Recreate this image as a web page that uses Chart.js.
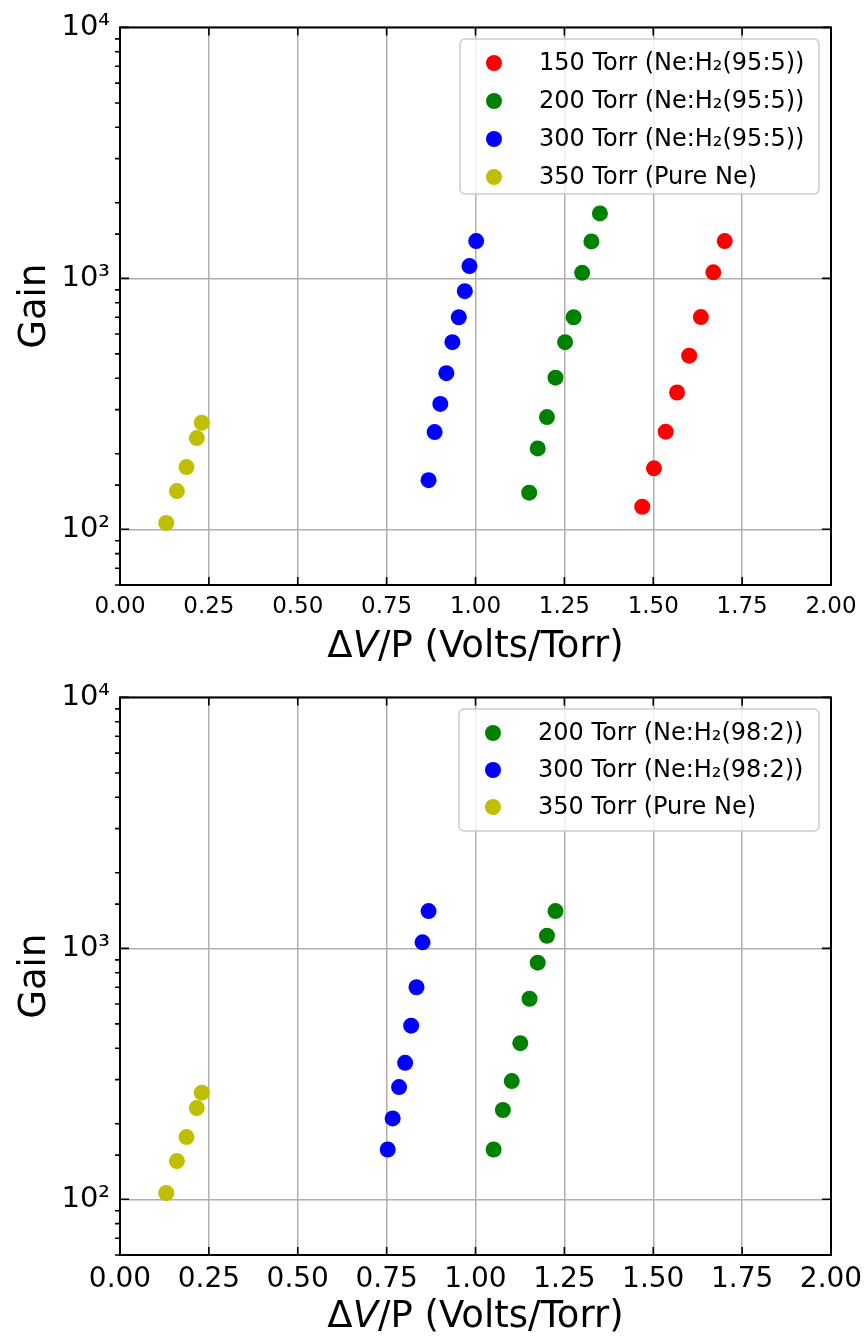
<!DOCTYPE html>
<html>
<head>
<meta charset="utf-8">
<script src="https://cdn.jsdelivr.net/npm/chart.js@4.4.1/dist/chart.umd.min.js"></script>
<style>
  body { margin: 0; background: #fff; }
  canvas { display: block; }
</style>
</head>
<body>
<canvas id="chartTop" width="864" height="670"></canvas>
<canvas id="chartBottom" width="864" height="670"></canvas>
<script>
// --- data (x = dV/P in Volts/Torr, y = gain) ---
// top panel, Ne:H2 (95:5)
const x150 = [1.469, 1.502, 1.535, 1.567, 1.601, 1.634, 1.669, 1.701];
const g150 = [123, 175, 245, 351, 492, 701, 1057, 1408];
const x200a = [1.151, 1.175, 1.201, 1.225, 1.252, 1.276, 1.300, 1.326, 1.350];
const g200a = [140, 210, 280, 402, 557, 700, 1052, 1404, 1815];
const x300a = [0.868, 0.885, 0.901, 0.918, 0.935, 0.953, 0.970, 0.983, 1.002];
const g300a = [157, 244, 316, 419, 557, 700, 889, 1119, 1408];
// pure neon, same in both panels
const x350 = [0.130, 0.160, 0.187, 0.216, 0.230];
const g350 = [106, 142, 177, 231, 266];
// bottom panel, Ne:H2 (98:2)
const x200b = [1.051, 1.077, 1.102, 1.126, 1.152, 1.175, 1.201, 1.225];
const g200b = [158, 227, 296, 419, 630, 877, 1123, 1408];
const x300b = [0.753, 0.767, 0.785, 0.802, 0.819, 0.834, 0.851, 0.868];
const g300b = [158, 210, 280, 350, 492, 700, 1057, 1408];

const labelsTop = ['150 Torr (Ne:H\u2082(95:5))', '200 Torr (Ne:H\u2082(95:5))',
                   '300 Torr (Ne:H\u2082(95:5))', '350 Torr (Pure Ne)'];
const labelsBottom = ['200 Torr (Ne:H\u2082(98:2))', '300 Torr (Ne:H\u2082(98:2))',
                      '350 Torr (Pure Ne)'];
const xTitle = ['\u0394', 'V', '/P (Volts/Torr)'];   // middle part is italic
const yTitle = 'Gain';

const RED = '#ff0000', GREEN = '#008000', BLUE = '#0000ff', YELLOW = '#bfbf00';
const FONT = "'DejaVu Sans', sans-serif";
const sup = ['\u2070', '\u00b9', '\u00b2', '\u00b3', '\u2074'];

function pts(xs, ys) {
  return xs.map((v, i) => ({x: v, y: ys[i]}));
}

function isDecade(v) {
  const l = Math.log10(v);
  return Math.abs(l - Math.round(l)) < 1e-6;
}

function makeSet(label, xs, ys, color) {
  return {
    label: label,
    data: pts(xs, ys),
    backgroundColor: color,
    borderWidth: 0,
    pointRadius: 8,
    pointHoverRadius: 8
  };
}

// frame + matplotlib style tick marks (majors inward, minor log ticks outward)
const frameTicks = {
  id: 'frameTicks',
  afterDraw(chart) {
    const {ctx, chartArea: a, scales: {x, y}} = chart;
    ctx.save();
    ctx.strokeStyle = '#000';
    ctx.lineWidth = 1.6;
    ctx.beginPath();
    x.ticks.forEach(t => {
      const px = x.getPixelForValue(t.value);
      ctx.moveTo(px, a.bottom); ctx.lineTo(px, a.bottom - 8);
      ctx.moveTo(px, a.top); ctx.lineTo(px, a.top + 8);
    });
    y.ticks.forEach(t => {
      const py = y.getPixelForValue(t.value);
      if (isDecade(t.value)) {
        ctx.moveTo(a.left, py); ctx.lineTo(a.left + 9, py);
        ctx.moveTo(a.right, py); ctx.lineTo(a.right - 9, py);
      } else {
        ctx.moveTo(a.left, py); ctx.lineTo(a.left - 5, py);
      }
    });
    ctx.stroke();
    ctx.lineWidth = 2;
    ctx.strokeRect(a.left, a.top, a.width, a.height);
    ctx.restore();
  }
};

// axis titles, with italic V in the x title
const axisTitles = {
  id: 'axisTitles',
  afterDraw(chart, args, opts) {
    const {ctx, chartArea: a} = chart;
    ctx.save();
    ctx.fillStyle = '#000';
    ctx.textBaseline = 'alphabetic';
    const fs = opts.size;
    const fonts = [fs + 'px ' + FONT, 'italic ' + fs + 'px ' + FONT, fs + 'px ' + FONT];
    let total = 0;
    const widths = xTitle.map((s, i) => { ctx.font = fonts[i]; const w = ctx.measureText(s).width; total += w; return w; });
    let cx = (a.left + a.right) / 2 - total / 2;
    xTitle.forEach((s, i) => {
      ctx.font = fonts[i];
      ctx.textAlign = 'left';
      ctx.fillText(s, cx, opts.xBase);
      cx += widths[i];
    });
    ctx.translate(opts.yBase, (a.top + a.bottom) / 2);
    ctx.rotate(-Math.PI / 2);
    ctx.font = fonts[0];
    ctx.textAlign = 'center';
    ctx.fillText(yTitle, 0, 0);
    ctx.restore();
  }
};

// legend box in the upper right corner of the plot
const boxLegend = {
  id: 'boxLegend',
  afterDraw(chart, args, opts) {
    const ctx = chart.ctx;
    const sets = chart.data.datasets;
    ctx.save();
    ctx.beginPath();
    ctx.roundRect(opts.x, opts.y, opts.w, opts.h, 5);
    ctx.fillStyle = 'rgba(255,255,255,0.8)';
    ctx.fill();
    ctx.strokeStyle = '#cccccc';
    ctx.lineWidth = 1.5;
    ctx.stroke();
    ctx.font = opts.size + 'px ' + FONT;
    ctx.textBaseline = 'middle';
    ctx.textAlign = 'left';
    sets.forEach((ds, i) => {
      const cy = opts.y + opts.first + i * opts.rowH;
      ctx.beginPath();
      ctx.arc(opts.x + 34, cy, 8, 0, Math.PI * 2);
      ctx.fillStyle = ds.backgroundColor;
      ctx.fill();
      ctx.fillStyle = '#000';
      ctx.fillText(ds.label, opts.x + 79, cy + 1);
    });
    ctx.restore();
  }
};

function makeChart(id, datasets, xTickSize, legendOpts) {
  return new Chart(document.getElementById(id), {
    type: 'scatter',
    data: {datasets: datasets},
    plugins: [frameTicks, axisTitles, boxLegend],
    options: {
      responsive: false,
      animation: false,
      layout: {padding: {left: 0, right: 33, top: 26, bottom: 0}},
      plugins: {
        legend: {display: false},
        tooltip: {enabled: false},
        axisTitles: {size: 37, xBase: 657, yBase: 45},
        boxLegend: legendOpts
      },
      scales: {
        x: {
          type: 'linear',
          min: 0,
          max: 2,
          afterFit: s => { s.height = 85; s.paddingLeft = 0; s.paddingRight = 0; },
          border: {display: false},
          grid: {color: '#b0b0b0', lineWidth: 1.5, drawTicks: false},
          ticks: {
            stepSize: 0.25,
            padding: 8,
            color: '#000',
            font: {family: FONT, size: xTickSize},
            callback: v => v.toFixed(2)
          }
        },
        y: {
          type: 'logarithmic',
          min: 60,
          max: 10000,
          afterFit: s => { s.width = 120; },
          border: {display: false},
          grid: {
            color: c => (c.tick && isDecade(c.tick.value)) ? '#b0b0b0' : 'rgba(0,0,0,0)',
            lineWidth: 1.5,
            drawTicks: false
          },
          ticks: {
            autoSkip: false,
            padding: 10,
            color: '#000',
            font: {family: FONT, size: 29},
            callback: v => isDecade(v) ? '10' + sup[Math.round(Math.log10(v))] : ''
          }
        }
      }
    }
  });
}

makeChart('chartTop', [
  makeSet(labelsTop[0], x150, g150, RED),
  makeSet(labelsTop[1], x200a, g200a, GREEN),
  makeSet(labelsTop[2], x300a, g300a, BLUE),
  makeSet(labelsTop[3], x350, g350, YELLOW)
], 23, {x: 460, y: 39, w: 359, h: 155, first: 24, rowH: 38, size: 24});

makeChart('chartBottom', [
  makeSet(labelsBottom[0], x200b, g200b, GREEN),
  makeSet(labelsBottom[1], x300b, g300b, BLUE),
  makeSet(labelsBottom[2], x350, g350, YELLOW)
], 28, {x: 459, y: 39, w: 360, h: 122, first: 24, rowH: 37, size: 24});
</script>
</body>
</html>
